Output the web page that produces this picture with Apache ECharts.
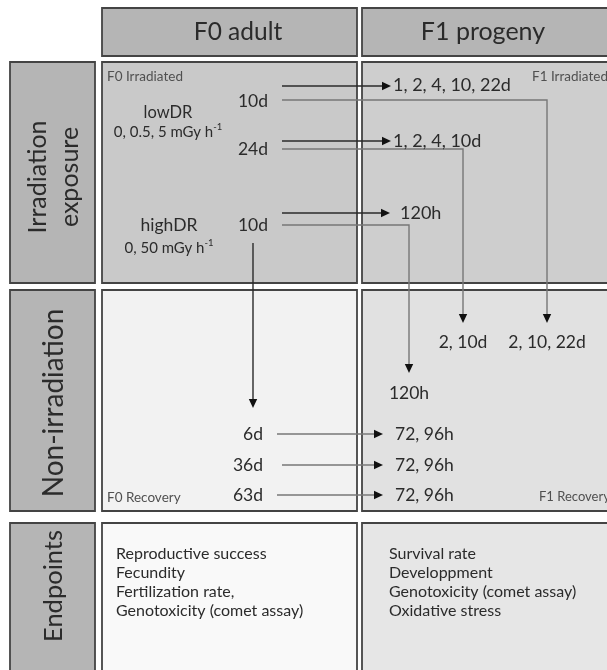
<!DOCTYPE html>
<html>
<head>
<meta charset="utf-8">
<script src="https://cdn.jsdelivr.net/npm/echarts@6/dist/echarts.min.js"></script>
<style>
html,body{margin:0;padding:0;background:#fff;}
#chart{width:607px;height:670px;}
</style>
</head>
<body>
<div id="chart"></div>
<script>
// ---------------- DATA (texts of the diagram) ----------------
const columns = ['F0 adult', 'F1 progeny'];
const rowLabels = ['Irradiation\nexposure', 'Non-irradiation', 'Endpoints'];
const cornerLabels = ['F0 Irradiated', 'F1 Irradiated', 'F0 Recovery', 'F1 Recovery'];
const treatments = ['lowDR', 'highDR'];
const doseRates = ['0, 0.5, 5 mGy h{sup|-1}', '0, 50 mGy h{sup|-1}'];
const f0Exposure = ['10d', '24d', '10d'];
const f1Irradiated = ['1, 2, 4, 10, 22d', '1, 2, 4, 10d', '120h'];
const f1AfterExposure = ['2, 10, 22d', '2, 10d', '120h'];
const f0Recovery = ['6d', '36d', '63d'];
const f1Recovery = ['72, 96h', '72, 96h', '72, 96h'];
const f0Endpoints = ['Reproductive success', 'Fecundity', 'Fertilization rate,', 'Genotoxicity (comet assay)'];
const f1Endpoints = ['Survival rate', 'Developpment', 'Genotoxicity (comet assay)', 'Oxidative stress'];

// ---------------- LAYOUT (diagram space, separate from data) ----------------
const W = 607, H = 670;
const colX = [[10, 95], [102, 357], [362, 614]];   // label column, F0, F1
const rowY = [[8, 56], [62, 283], [290, 511], [523, 690]]; // header, row1..row3
const FONT = 'Lato, "Open Sans", sans-serif';
const C = {
  border: '#444', head: '#b5b5b5', label: '#b5b5b5',
  f0: ['#c9c9c9', '#f2f2f2', '#f9f9f9'],
  f1: ['#cecece', '#e1e1e1', '#e6e6e6'],
  text: '#2b2b2b', small: '#505050', dark: '#2a2a2a', gray: '#777', head3: '#111'
};

const rects = [];
rects.push({x0: colX[1][0], y0: rowY[0][0], x1: colX[1][1], y1: rowY[0][1], fill: C.head});
rects.push({x0: colX[2][0], y0: rowY[0][0], x1: colX[2][1], y1: rowY[0][1], fill: C.head});
for (let r = 0; r < 3; r++) {
  rects.push({x0: colX[0][0], y0: rowY[r+1][0], x1: colX[0][1], y1: rowY[r+1][1], fill: C.label});
  rects.push({x0: colX[1][0], y0: rowY[r+1][0], x1: colX[1][1], y1: rowY[r+1][1], fill: C.f0[r]});
  rects.push({x0: colX[2][0], y0: rowY[r+1][0], x1: colX[2][1], y1: rowY[r+1][1], fill: C.f1[r]});
}

const texts = [];
function T(t, x, y, size, align, color, extra) {
  texts.push(Object.assign({t, x, y, size, align, color, rot: 0}, extra || {}));
}
T(columns[0], 238, 32, 24.5, 'center', C.text);
T(columns[1], 483, 32, 25, 'center', C.text);
T(rowLabels[0], 54, 177, 25, 'center', C.text, {rot: 1, lh: 32});
T(rowLabels[1], 54, 403, 28, 'center', C.text, {rot: 1});
T(rowLabels[2], 54, 586, 25.5, 'center', C.text, {rot: 1});
T(cornerLabels[0], 107, 77, 13.5, 'left', C.small);
T(cornerLabels[1], 532, 77, 13.5, 'left', C.small);
T(cornerLabels[2], 107, 498, 13.5, 'left', C.small);
T(cornerLabels[3], 539, 497, 13, 'left', C.small);
T(treatments[0], 168, 113, 16.5, 'center', C.text);
T(doseRates[0], 168, 132, 15, 'center', C.text);
T(treatments[1], 169, 225, 17.5, 'center', C.text);
T(doseRates[1], 169, 248, 15, 'center', C.text);
const expY = [101, 149, 225];
f0Exposure.forEach((s, i) => T(s, 268, expY[i], 17.5, 'right', C.text));
const irrY = [85, 141, 213], irrX = [393, 393, 400];
f1Irradiated.forEach((s, i) => T(s, irrX[i], irrY[i], 18, 'left', C.text));
const afterX = [547, 463, 409], afterY = [342, 342, 393];
f1AfterExposure.forEach((s, i) => T(s, afterX[i], afterY[i], 17.5, 'center', C.text));
const recY = [434, 465, 495];
f0Recovery.forEach((s, i) => T(s, 263, recY[i], 17.5, 'right', C.text));
f1Recovery.forEach((s, i) => T(s, 395, recY[i], 17.5, 'left', C.text));
const endY = [554, 573, 592, 611];
f0Endpoints.forEach((s, i) => T(s, 116, endY[i], 16, 'left', C.text));
f1Endpoints.forEach((s, i) => T(s, 389, endY[i], 16, 'left', C.text));

// connectors: polyline points, colour, arrowhead at end
const arrows = [
  {p: [[282, 86], [391, 86]], c: C.dark},
  {p: [[282, 100], [547, 100], [547, 323]], c: C.gray},
  {p: [[282, 141], [391, 141]], c: C.dark},
  {p: [[282, 149], [463, 149], [463, 323]], c: C.gray},
  {p: [[282, 213], [390, 213]], c: C.dark},
  {p: [[282, 225], [409, 225], [409, 373]], c: C.gray},
  {p: [[253, 243], [253, 408]], c: C.dark},
  {p: [[277, 434], [383, 434]], c: C.gray},
  {p: [[282, 465], [383, 465]], c: C.gray},
  {p: [[277, 495], [383, 495]], c: C.gray}
];

// ---------------- CHART ----------------
const chart = echarts.init(document.getElementById('chart'), null, {renderer: 'canvas'});
const supRich = {sup: {fontSize: 9.5, verticalAlign: 'top', padding: [0, 0, 9, 0], fontFamily: FONT, fill: C.text}};

chart.setOption({
  animation: false,
  backgroundColor: '#ffffff',
  grid: {left: 0, right: 0, top: 0, bottom: 0},
  xAxis: {type: 'value', min: 0, max: W, show: false},
  yAxis: {type: 'value', min: 0, max: H, inverse: true, show: false},
  series: [
    {
      type: 'custom', coordinateSystem: 'cartesian2d',
      data: rects.map(r => [r.x0, r.y0, r.x1, r.y1]),
      renderItem: (params, api) => {
        const r = rects[params.dataIndex];
        const a = api.coord([api.value(0), api.value(1)]);
        const b = api.coord([api.value(2), api.value(3)]);
        return {type: 'rect', shape: {x: a[0], y: a[1], width: b[0]-a[0], height: b[1]-a[1]},
          style: {fill: r.fill, stroke: C.border, lineWidth: 1.8}};
      }
    },
    {
      type: 'custom', coordinateSystem: 'cartesian2d',
      data: arrows.map(a => a.p[0]),
      renderItem: (params, api) => {
        const ar = arrows[params.dataIndex];
        const pts = ar.p.map(p => api.coord(p));
        const n = pts.length;
        const e = pts[n-1], s = pts[n-2];
        const dx = e[0]-s[0], dy = e[1]-s[1], L = Math.hypot(dx, dy);
        const ux = dx/L, uy = dy/L, hl = 9, hw = 4.2;
        const bx = e[0]-ux*hl, by = e[1]-uy*hl;
        const linePts = pts.slice(0, n-1).concat([[bx + ux, by + uy]]);
        return {type: 'group', children: [
          {type: 'polyline', shape: {points: linePts}, style: {stroke: ar.c, lineWidth: 1.4, fill: null}},
          {type: 'polygon', shape: {points: [e, [bx - uy*hw, by + ux*hw], [bx + uy*hw, by - ux*hw]]},
            style: {fill: C.head3}}
        ]};
      }
    },
    {
      type: 'custom', coordinateSystem: 'cartesian2d',
      data: texts.map(t => [t.x, t.y]),
      renderItem: (params, api) => {
        const t = texts[params.dataIndex];
        const p = api.coord([api.value(0), api.value(1)]);
        return {type: 'text', x: p[0], y: p[1], rotation: t.rot ? Math.PI/2 : 0,
          style: {text: t.t, fill: t.color, fontSize: t.size, fontFamily: FONT,
            align: t.align, verticalAlign: 'middle', lineHeight: t.lh || Math.round(t.size*1.3),
            rich: supRich}};
      }
    }
  ]
});
</script>
</body>
</html>
